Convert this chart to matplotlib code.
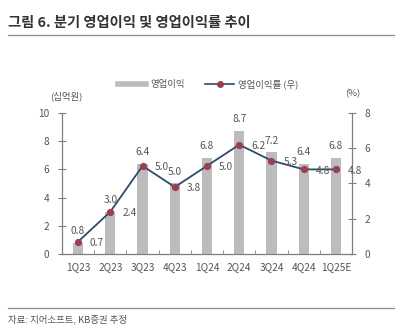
#!/usr/bin/env python3
"""Quarterly operating profit (bars) and operating margin (line) chart."""

import matplotlib

matplotlib.use("Agg")
import matplotlib.pyplot as plt
import numpy as np
from matplotlib.lines import Line2D

plt.rcParams["font.family"] = ["Noto Sans CJK KR", "DejaVu Sans"]

quarters = ["1Q23", "2Q23", "3Q23", "4Q23", "1Q24", "2Q24", "3Q24", "4Q24", "1Q25E"]
op_profit = [0.8, 3.0, 6.4, 5.0, 6.8, 8.7, 7.2, 6.4, 6.8]  # 십억원
op_margin = [0.7, 2.4, 5.0, 3.8, 5.0, 6.2, 5.3, 4.8, 4.8]  # %

BAR = "#bcbcbc"
LINE = "#2f4a6a"
MARK = "#9c3f52"
TXT = "#555555"
AXC = "#7f7f7f"


def main() -> None:
    fig = plt.figure(figsize=(4.0, 3.34), dpi=100)
    ax = fig.add_axes([0.155, 0.2395, 0.725, 0.4222])
    ax2 = ax.twinx()

    x = np.arange(len(quarters))
    ax.bar(x, op_profit, width=0.32, color=BAR, zorder=1)
    ax2.plot(x, op_margin, color=LINE, lw=1.3, marker="o", ms=4.2,
             mfc=MARK, mec=MARK, zorder=3)

    ax.set_xlim(-0.5, len(quarters) - 0.5)
    ax.set_ylim(0, 10)
    ax2.set_ylim(0, 8)
    ax.set_yticks(range(0, 11, 2))
    ax2.set_yticks(range(0, 9, 2))

    # value labels: profit above bars, margin to the right of markers
    for xi, v in zip(x, op_profit):
        ax.annotate(f"{v:.1f}", (xi, v), xytext=(0, 5), textcoords="offset points",
                    ha="center", va="bottom", fontsize=7.3, color=TXT)
    for xi, v in zip(x, op_margin):
        ax2.annotate(f"{v:.1f}", (xi, v), xytext=(8.5, -1), textcoords="offset points",
                     ha="left", va="center", fontsize=7.3, color=TXT)

    ax.set_xticks(x)
    ax.set_xticklabels(quarters)
    ax.set_xticks(x[:-1] + 0.5, minor=True)
    ax.tick_params(axis="x", which="major", length=0, pad=6, labelsize=7.3, labelcolor=TXT)
    ax.tick_params(axis="x", which="minor", direction="in", length=3, color=AXC)
    ax.tick_params(axis="y", direction="inout", length=6, color=AXC, labelsize=7.3,
                   labelcolor=TXT, pad=6)
    ax2.tick_params(axis="y", direction="inout", length=6, color=AXC, labelsize=7.3,
                    labelcolor=TXT, pad=6)

    for a in (ax, ax2):
        a.spines["top"].set_visible(False)
        for s in ("left", "right", "bottom"):
            a.spines[s].set_color(AXC)
            a.spines[s].set_linewidth(0.9)
    ax.spines["right"].set_visible(False)
    ax2.spines["left"].set_visible(False)
    ax2.spines["bottom"].set_visible(False)

    fig.text(0.165, 0.712, "(십억원)", ha="center", va="center", fontsize=6.8, color=TXT)
    fig.text(0.883, 0.721, "(%)", ha="center", va="center", fontsize=6.8, color=TXT)

    handles = [
        Line2D([], [], color=BAR, lw=4),
        Line2D([], [], color=LINE, lw=1.2, marker="o", ms=4, mfc=MARK, mec=MARK),
    ]
    fig.legend(handles, ["영업이익", "영업이익률 (우)"], loc="center",
               bbox_to_anchor=(0.52, 0.748), ncol=2, frameon=False, fontsize=6.8,
               handlelength=3.0, columnspacing=2.2, handletextpad=0.4,
               labelcolor=TXT)

    fig.text(0.02, 0.932, "그림 6. 분기 영업이익 및 영업이익률 추이", ha="left", va="center",
             fontsize=10.3, fontweight="bold", color="#333333")
    fig.add_artist(Line2D([0.02, 0.985], [0.895, 0.895], color="#8c8c8c", lw=0.9))
    fig.add_artist(Line2D([0.02, 0.985], [0.078, 0.078], color="#8c8c8c", lw=0.9))
    fig.text(0.02, 0.043, "자료: 지어소프트, KB증권 추정", ha="left", va="center",
             fontsize=6.8, color=TXT)

    fig.savefig("out.png", dpi=100)
    plt.close(fig)


if __name__ == "__main__":
    main()
